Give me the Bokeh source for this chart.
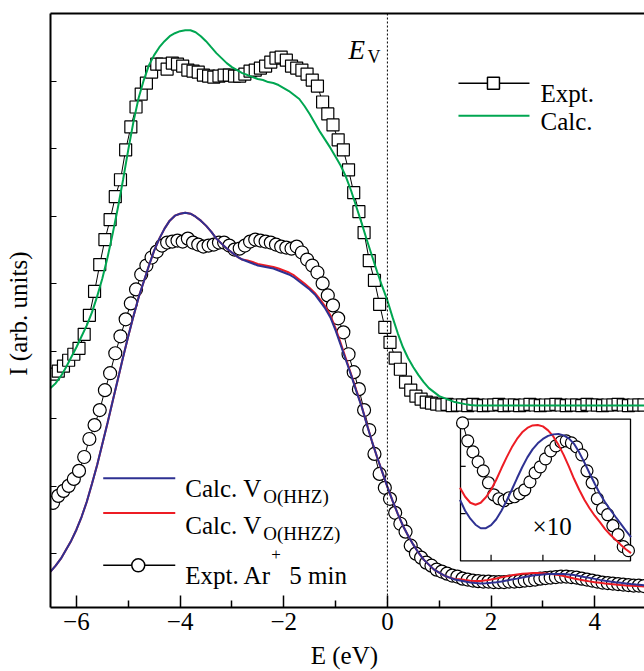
import math
from bokeh.plotting import figure
from bokeh.models import Range1d, FixedTicker, LinearAxis, Label, Span
from bokeh.embed import file_html
from bokeh.resources import INLINE
from bokeh.core.properties import value

# ---------------- data (E in eV, intensity in arb. units) ----------------
E_EXP = [-6.45, -6.35, -6.25, -6.15, -6.05, -5.95, -5.85, -5.75, -5.65, -5.55,
         -5.45, -5.35, -5.25, -5.15, -5.05, -4.95, -4.85, -4.75, -4.65, -4.55,
         -4.45, -4.35, -4.25, -4.15, -4.05, -3.95, -3.85, -3.75, -3.65, -3.55,
         -3.45, -3.35, -3.25, -3.15, -3.05, -2.95, -2.85, -2.75, -2.65, -2.55,
         -2.45, -2.35, -2.25, -2.15, -2.05, -1.95, -1.85, -1.75, -1.65, -1.55,
         -1.45, -1.35, -1.25, -1.15, -1.05, -0.95, -0.85, -0.75, -0.65, -0.55,
         -0.45, -0.35, -0.25, -0.15, -0.05, 0.05, 0.15, 0.25, 0.35, 0.45,
         0.55, 0.65, 0.75, 0.85, 0.95, 1.05, 1.15, 1.25, 1.35, 1.45,
         1.55, 1.65, 1.75, 1.85, 1.95, 2.05, 2.15, 2.25, 2.35, 2.45,
         2.55, 2.65, 2.75, 2.85, 2.95, 3.05, 3.15, 3.25, 3.35, 3.45,
         3.55, 3.65, 3.75, 3.85, 3.95, 4.05, 4.15, 4.25, 4.35, 4.45,
         4.55, 4.65, 4.75, 4.85, 4.95]

EXPT = [3.456, 3.501, 3.575, 3.663, 3.752, 3.840, 4.047, 4.328, 4.682, 5.081,
        5.451, 5.746, 6.086, 6.337, 6.780, 7.120, 7.415, 7.607, 7.770, 7.932,
        8.050, 8.050, 7.976, 8.065, 8.050, 8.021, 7.962, 7.947, 7.932, 7.888,
        7.873, 7.858, 7.873, 7.888, 7.888, 7.873, 7.873, 7.903, 7.947, 7.962,
        7.991, 8.021, 8.080, 8.139, 8.154, 8.109, 8.021, 7.991, 7.962, 7.903,
        7.814, 7.725, 7.489, 7.312, 7.149, 6.928, 6.780, 6.484, 6.145, 5.864,
        5.554, 5.140, 4.845, 4.490, 4.151, 3.929, 3.693, 3.530, 3.338, 3.220,
        3.131, 3.087, 3.043, 3.028, 3.013, 3.00, 3.01, 2.99, 3.00, 3.00,
        2.99, 3.01, 3.00, 2.99, 3.00, 3.00, 3.01, 2.99, 3.00, 3.00,
        2.99, 3.00, 3.01, 3.00, 2.99, 3.00, 3.00, 3.01, 3.00, 2.99,
        3.00, 3.00, 2.99, 3.01, 3.00, 3.00, 2.99, 3.00, 3.00, 3.01,
        3.00, 2.99, 3.00, 3.00, 3.00]

EXPT_AR = [1.551, 1.654, 1.728, 1.802, 1.905, 2.024, 2.230, 2.496, 2.703, 2.925,
           3.220, 3.471, 3.767, 4.018, 4.269, 4.505, 4.712, 4.934, 5.066, 5.185,
           5.273, 5.362, 5.406, 5.421, 5.436, 5.421, 5.465, 5.406, 5.377, 5.347,
           5.362, 5.377, 5.406, 5.406, 5.362, 5.303, 5.318, 5.362, 5.421, 5.451,
           5.436, 5.421, 5.406, 5.377, 5.347, 5.332, 5.318, 5.347, 5.259, 5.155,
           5.066, 4.963, 4.801, 4.623, 4.476, 4.284, 4.077, 3.752, 3.486, 3.235,
           2.925, 2.629, 2.275, 1.979, 1.773, 1.610, 1.403, 1.241, 1.123, 0.916,
           0.798, 0.739, 0.665, 0.620, 0.561, 0.532, 0.502, 0.473, 0.458, 0.428,
           0.414, 0.399, 0.391, 0.384, 0.384, 0.377, 0.377, 0.377, 0.384, 0.384,
           0.391, 0.399, 0.406, 0.414, 0.428, 0.436, 0.443, 0.451, 0.458, 0.458,
           0.451, 0.443, 0.428, 0.414, 0.399, 0.384, 0.369, 0.362, 0.355, 0.347,
           0.340, 0.332, 0.325, 0.325, 0.318]

E_CALC = [-6.5, -6.4, -6.3, -6.2, -6.1, -6.0, -5.9, -5.8, -5.7, -5.6,
          -5.5, -5.4, -5.3, -5.2, -5.1, -5.0, -4.9, -4.8, -4.7, -4.6,
          -4.5, -4.4, -4.3, -4.2, -4.1, -4.0, -3.9, -3.8, -3.7, -3.6,
          -3.5, -3.4, -3.3, -3.2, -3.1, -3.0, -2.9, -2.8, -2.7, -2.6,
          -2.5, -2.4, -2.3, -2.2, -2.1, -2.0, -1.9, -1.8, -1.7, -1.6,
          -1.5, -1.4, -1.3, -1.2, -1.1, -1.0, -0.9, -0.8, -0.7, -0.6,
          -0.5, -0.4, -0.3, -0.2, -0.1, 0.0, 0.1, 0.2, 0.3, 0.4,
          0.5, 0.6, 0.7, 0.8, 0.9, 1.0, 1.1, 1.2, 1.3, 1.4,
          1.5, 1.6, 1.7, 1.8, 1.9, 2.0, 2.1, 2.2, 2.3, 2.4,
          2.5, 2.6, 2.7, 2.8, 2.9, 3.0, 3.1, 3.2, 3.3, 3.4,
          3.5, 3.6, 3.7, 3.8, 3.9, 4.0, 4.1, 4.2, 4.3, 4.4,
          4.5, 4.6, 4.7, 4.8, 4.9, 5.0]

CALC = [3.250, 3.323, 3.427, 3.560, 3.708, 3.855, 4.018, 4.180, 4.372, 4.609,
        4.874, 5.185, 5.539, 5.923, 6.337, 6.780, 7.194, 7.548, 7.814, 8.035,
        8.183, 8.301, 8.390, 8.464, 8.508, 8.538, 8.552, 8.552, 8.523, 8.464,
        8.390, 8.301, 8.213, 8.139, 8.065, 8.006, 7.962, 7.917, 7.888, 7.858,
        7.829, 7.814, 7.784, 7.770, 7.740, 7.696, 7.651, 7.592, 7.533, 7.430,
        7.312, 7.179, 7.046, 6.928, 6.809, 6.677, 6.544, 6.381, 6.174, 5.938,
        5.702, 5.451, 5.214, 4.978, 4.756, 4.549, 4.298, 4.062, 3.855, 3.693,
        3.560, 3.442, 3.338, 3.250, 3.191, 3.131, 3.102, 3.072, 3.043, 3.028,
        3.013, 2.999, 2.994, 2.992, 2.991, 2.991, 2.991, 2.991, 2.991, 2.991,
        2.991, 2.991, 2.991, 2.991, 2.991, 2.991, 2.991, 2.991, 2.991, 2.991,
        2.991, 2.991, 2.991, 2.991, 2.991, 2.991, 2.991, 2.991, 2.991, 2.991,
        2.991, 2.991, 2.991, 2.991, 2.991, 2.991]

CALC_HHZ = [0.532, 0.620, 0.724, 0.857, 0.990, 1.152, 1.344, 1.566, 1.832, 2.112,
            2.422, 2.733, 3.058, 3.383, 3.708, 4.018, 4.313, 4.594, 4.830, 5.066,
            5.288, 5.465, 5.613, 5.731, 5.805, 5.834, 5.849, 5.834, 5.790, 5.731,
            5.657, 5.569, 5.465, 5.391, 5.318, 5.258, 5.199, 5.155, 5.126, 5.096,
            5.066, 5.052, 5.037, 5.022, 4.993, 4.963, 4.934, 4.889, 4.830, 4.771,
            4.712, 4.638, 4.535, 4.431, 4.298, 4.106, 3.885, 3.663, 3.442, 3.205,
            2.984, 2.718, 2.467, 2.230, 2.009, 1.787, 1.581, 1.388, 1.211, 1.064,
            0.931, 0.812, 0.709, 0.635, 0.561, 0.517, 0.473, 0.443, 0.414, 0.399,
            0.384, 0.369, 0.362, 0.357, 0.359, 0.365, 0.374, 0.384, 0.399, 0.414,
            0.428, 0.443, 0.458, 0.473, 0.483, 0.490, 0.495, 0.498, 0.498, 0.495,
            0.489, 0.480, 0.468, 0.453, 0.439, 0.424, 0.409, 0.396, 0.384, 0.374,
            0.365, 0.356, 0.347, 0.340, 0.334, 0.328]

CALC_HHZZ = [0.532, 0.620, 0.724, 0.857, 0.990, 1.152, 1.344, 1.566, 1.832, 2.112,
             2.422, 2.733, 3.058, 3.383, 3.708, 4.018, 4.313, 4.594, 4.830, 5.066,
             5.288, 5.465, 5.613, 5.731, 5.805, 5.834, 5.849, 5.834, 5.790, 5.731,
             5.657, 5.569, 5.465, 5.391, 5.318, 5.258, 5.199, 5.155, 5.140, 5.118,
             5.089, 5.074, 5.059, 5.044, 5.022, 4.993, 4.963, 4.919, 4.860, 4.801,
             4.734, 4.660, 4.564, 4.461, 4.328, 4.136, 3.914, 3.685, 3.456, 3.220,
             2.991, 2.725, 2.467, 2.230, 2.009, 1.787, 1.581, 1.388, 1.211, 1.064,
             0.931, 0.812, 0.709, 0.635, 0.561, 0.517, 0.473, 0.443, 0.424, 0.417,
             0.406, 0.397, 0.393, 0.394, 0.402, 0.414, 0.430, 0.448, 0.462, 0.477,
             0.489, 0.499, 0.505, 0.510, 0.511, 0.508, 0.501, 0.493, 0.480, 0.467,
             0.449, 0.431, 0.415, 0.400, 0.387, 0.375, 0.366, 0.356, 0.347, 0.340,
             0.332, 0.326, 0.322, 0.318, 0.313, 0.310]

# inset (x10)
E_IN_CALC = [1.4, 1.5, 1.6, 1.7, 1.8, 1.9, 2.0, 2.1, 2.2, 2.3, 2.4, 2.5, 2.6, 2.7,
             2.8, 2.9, 3.0, 3.1, 3.2, 3.3, 3.4, 3.5, 3.6, 3.7, 3.8, 3.9, 4.0, 4.1,
             4.2, 4.3, 4.4, 4.5, 4.6, 4.7]
IN_HHZ = [9.05, 7.43, 6.25, 5.36, 4.84, 4.84, 5.29, 6.17, 7.43, 8.91, 10.53, 12.23,
          13.86, 15.33, 16.51, 17.40, 18.06, 18.51, 18.73, 18.80, 18.58, 18.14, 17.33,
          16.07, 14.59, 12.97, 11.42, 9.94, 8.69, 7.58, 6.54, 5.51, 4.48, 3.52]
IN_HHZZ = [10.83, 9.50, 8.61, 8.32, 8.61, 9.42, 10.53, 12.01, 13.71, 15.33, 16.81,
           18.06, 19.03, 19.69, 20.06, 20.13, 19.91, 19.32, 18.43, 17.18, 15.70, 14.00,
           12.16, 10.53, 9.05, 7.80, 6.69, 5.73, 4.70, 3.88, 3.15, 2.41, 1.74, 1.15]
E_IN_EXP = [1.45, 1.55, 1.65, 1.75, 1.85, 1.95, 2.05, 2.15, 2.25, 2.35, 2.45, 2.55,
            2.65, 2.75, 2.85, 2.95, 3.05, 3.15, 3.25, 3.35, 3.45, 3.55, 3.65, 3.75,
            3.85, 3.95, 4.05, 4.15, 4.25, 4.35, 4.45, 4.55, 4.65]
IN_EXP = [20.43, 17.77, 16.14, 14.67, 13.34, 11.57, 9.79, 9.20, 8.91, 9.35, 9.50,
          9.94, 10.53, 11.71, 13.04, 13.93, 15.11, 16.29, 17.03, 17.62, 17.77, 17.47,
          16.88, 15.70, 13.34, 11.57, 9.20, 7.72, 6.84, 5.21, 3.88, 2.11, 1.52]

X_TICKS = [-6, -4, -2, 0, 2, 4]
X_MINOR = [-5, -3, -1, 1, 3]
X_LABELS = ["\u22126", "\u22124", "\u22122", "0", "2", "4"]
Y_TICKS = [0.8, 1.8, 2.8, 3.8, 4.8, 5.8, 6.8, 7.8]

GREEN = "#00a651"
BLUE = "#2e3192"
RED = "#ed1c24"
FONT = "Liberation Serif"
FS = "25px"

# ---------------- figure ----------------
p = figure(width=644, height=671, x_range=Range1d(-6.5, 4.96), y_range=Range1d(0, 8.8),
           output_backend="svg", toolbar_location=None,
           min_border_left=50, min_border_right=0, min_border_top=13, min_border_bottom=62)
p.outline_line_color = None
p.grid.visible = False

xa = p.xaxis[0]
xa.ticker = FixedTicker(ticks=X_TICKS, minor_ticks=X_MINOR)
xa.major_label_overrides = {float(t): l for t, l in zip(X_TICKS, X_LABELS)}
xa.major_label_text_font = FONT
xa.major_label_text_font_size = FS
xa.major_label_text_color = "black"
xa.major_label_standoff = 5
xa.major_label_text_line_height = 0.9
xa.major_tick_in = 12
xa.major_tick_out = 0
xa.minor_tick_in = 7
xa.minor_tick_out = 0
xa.axis_line_width = 2
xa.major_tick_line_width = 1.5
xa.minor_tick_line_width = 1.5
xa.axis_label = "E  (eV)"
xa.axis_label_text_font = FONT
xa.axis_label_text_font_size = FS
xa.axis_label_text_font_style = "normal"
xa.axis_label_text_color = "black"
xa.axis_label_text_line_height = 0.9
xa.axis_label_standoff = 9

ya = p.yaxis[0]
ya.ticker = FixedTicker(ticks=Y_TICKS)
ya.major_label_overrides = {t: "" for t in Y_TICKS}
ya.major_label_text_color = None
ya.major_label_standoff = 0
ya.major_tick_in = 6
ya.major_tick_out = 0
ya.minor_tick_line_color = None
ya.axis_line_width = 2
ya.major_tick_line_width = 1.2
ya.axis_label = "I  (arb. units)"
ya.axis_label_text_font = FONT
ya.axis_label_text_font_size = FS
ya.axis_label_text_font_style = "normal"
ya.axis_label_text_color = "black"
ya.axis_label_standoff = 19

top = LinearAxis(ticker=FixedTicker(ticks=[]), major_label_text_color=None,
                 major_tick_out=0, minor_tick_out=0, axis_line_width=2)
p.add_layout(top, "above")

p.add_layout(Span(location=0, dimension="height", line_dash="2 2", line_width=1,
                  line_color="black"))

# ---------------- main data ----------------
p.line(E_EXP, EXPT, line_color="black", line_width=1)
p.scatter(E_EXP, EXPT, marker="square", size=12, fill_color="white",
          line_color="black", line_width=1.2)
p.line(E_CALC, CALC, line_color=GREEN, line_width=2)

p.line(E_EXP, EXPT_AR, line_color="black", line_width=1)
p.scatter(E_EXP, EXPT_AR, marker="circle", size=13, fill_color="white",
          line_color="black", line_width=1.2)
p.line(E_CALC, CALC_HHZZ, line_color=RED, line_width=2)
p.line(E_CALC, CALC_HHZ, line_color=BLUE, line_width=2)

# ---------------- inset ----------------
IN_X = (1.41, 4.69)
IN_Y = (0.0, 21.0)
sub = p.subplot(x_source=Range1d(*IN_X), y_source=Range1d(*IN_Y),
                x_target=Range1d(*IN_X), y_target=Range1d(0.690, 2.792))
sub.quad(left=[IN_X[0]], right=[IN_X[1]], bottom=[IN_Y[0]], top=[IN_Y[1]],
         fill_color="white", line_color="black", line_width=1.3)
sub.segment(x0=[2, 3, 4], y0=[0, 0, 0], x1=[2, 3, 4], y1=[0.9, 0.9, 0.9],
            line_color="black", line_width=1.2)
sub.segment(x0=[IN_X[0]] * 2, y0=[7, 14], x1=[IN_X[0] + 0.1] * 2, y1=[7, 14],
            line_color="black", line_width=1.2)
sub.line(E_IN_EXP, IN_EXP, line_color="black", line_width=1)
sub.scatter(E_IN_EXP, IN_EXP, marker="circle", size=12, fill_color="white",
            line_color="black", line_width=1.2)
sub.line(E_IN_CALC, IN_HHZZ, line_color=RED, line_width=2)
sub.line(E_IN_CALC, IN_HHZ, line_color=BLUE, line_width=2)
sub.text(x=[2.80], y=[5.07], text=["\u00d710"], text_font=value(FONT),
         text_font_size=value(FS), text_baseline="alphabetic", text_color="black")

# ---------------- legends ----------------
p.line([1.371, 2.741], [7.765, 7.765], line_color="black", line_width=1.5)
p.scatter([2.046], [7.765], marker="square", size=12, fill_color="white",
          line_color="black", line_width=1.5)
p.line([1.371, 2.741], [7.287, 7.287], line_color=GREEN, line_width=2)

p.line([-5.483, -4.093], [1.916, 1.916], line_color=BLUE, line_width=2)
p.line([-5.483, -4.093], [1.399, 1.399], line_color=RED, line_width=2)
p.line([-5.483, -4.093], [0.625, 0.625], line_color="black", line_width=1.5)
p.scatter([-4.807], [0.625], marker="circle", size=13, fill_color="white",
          line_color="black", line_width=1.5)


def lab(x, y, t, size=FS, style="normal", align="left", base="alphabetic"):
    p.add_layout(Label(x=x, y=y, text=t, text_font=FONT, text_font_size=size,
                       text_font_style=style, text_align=align,
                       text_baseline=base, text_color="black"))


lab(2.954, 7.611, "Expt.")
lab(2.954, 7.201, "Calc.")
lab(-3.900, 1.758, "Calc. V")
lab(-2.394, 1.640, "O(HHZ)", size="19px")
lab(-3.900, 1.219, "Calc. V")
lab(-2.394, 1.097, "O(HHZZ)", size="19px")
lab(-3.900, 0.468, "Expt. Ar")
lab(-2.240, 0.780, "+", size="17px")
lab(-1.892, 0.468, "5 min")
lab(-0.753, 8.257, "E", size="27px", style="italic")
lab(-0.386, 8.154, "V", size="18px")

open("out.html", "w").write(file_html(p, INLINE))
